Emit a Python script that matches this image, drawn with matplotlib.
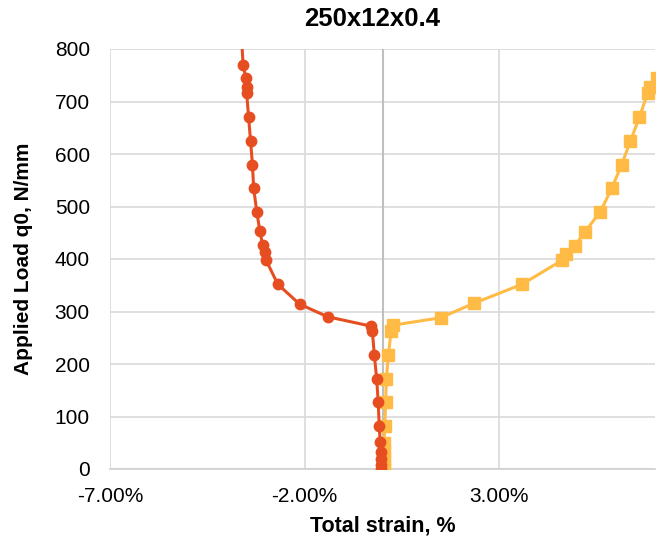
import matplotlib.pyplot as plt
from matplotlib.ticker import FuncFormatter

plt.rcParams['font.family'] = ['Liberation Sans', 'DejaVu Sans']

# applied load q0 [N/mm]
load_c = [0, 8, 20, 32, 51, 82, 127, 172, 217, 262, 272, 290, 314, 352,
          399, 414, 427, 453, 490, 535, 579, 625, 671, 716, 727, 744, 769, 820]
# compressive side total strain [%]
strain_c = [-0.04, -0.04, -0.05, -0.05, -0.06, -0.085, -0.11, -0.15, -0.21,
            -0.26, -0.29, -1.41, -2.13, -2.69, -3.00, -3.03, -3.08, -3.15,
            -3.23, -3.31, -3.34, -3.39, -3.44, -3.49, -3.49, -3.51, -3.58,
            -3.62]

load_t = [0, 8, 20, 32, 50, 82, 127, 172, 217, 262, 274, 288, 316, 352,
          398, 410, 425, 452, 489, 535, 579, 625, 670, 716, 727, 745, 770]
# tensile side total strain [%]
strain_t = [0.04, 0.04, 0.04, 0.04, 0.04, 0.06, 0.08, 0.10, 0.15, 0.22,
            0.27, 1.49, 2.36, 3.59, 4.62, 4.71, 4.94, 5.20, 5.59, 5.89,
            6.14, 6.37, 6.60, 6.81, 6.88, 7.05, 7.30]

xticks = [-7, -2, 3]

fig = plt.figure(figsize=(6.57, 5.42), dpi=100)
ax = fig.add_axes([110/657, 1 - 469/542, 545/657, 420/542])

ax.plot(strain_t, load_t, '-s', color='#FFBB45', lw=2.2, ms=8, zorder=3)
ax.plot(strain_c, load_c, '-o', color='#E64E22', lw=2.2, ms=7.5, zorder=4)

ax.set_xlim(-7, 7)
ax.set_ylim(0, 800)
ax.set_xticks(xticks)
ax.set_yticks(range(0, 801, 100))
ax.xaxis.set_major_formatter(FuncFormatter(lambda v, p: f'{v:.2f}%'))
ax.grid(True, color='#D9D9D9', lw=1.2, zorder=0)
ax.set_axisbelow(True)
ax.axvline(0, color='#BFBFBF', lw=1.5, zorder=1)
for s in ['top', 'right', 'left']:
    ax.spines[s].set_visible(False)
ax.spines['bottom'].set_color('#D0D0D0')
ax.spines['bottom'].set_linewidth(1.2)
ax.tick_params(length=0, labelsize=15, colors='black')
ax.tick_params(axis='y', pad=14.5)
ax.tick_params(axis='x', pad=13)

fig.text(372/657, 1 - 19/542, '250x12x0.4', fontsize=18.5, fontweight='bold',
         ha='center', va='center')
ax.set_xlabel('Total strain, %', fontsize=15.5, fontweight='bold', labelpad=7)
ax.set_ylabel('Applied Load q0, N/mm', fontsize=15, fontweight='bold', labelpad=16)

fig.savefig('out.png', dpi=100)
